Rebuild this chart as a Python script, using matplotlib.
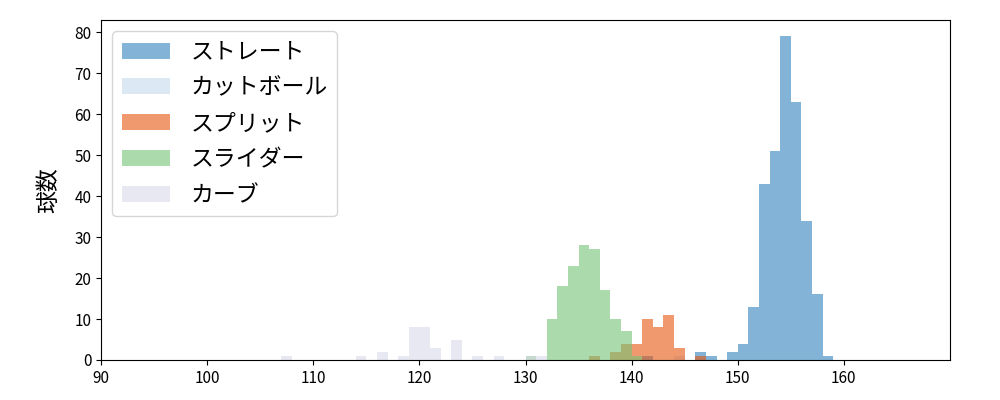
import numpy as np
import matplotlib
matplotlib.use('Agg')
import matplotlib.pyplot as plt

plt.rcParams['font.family'] = ['Noto Sans CJK JP', 'DejaVu Sans']

# pitch types, in legend order
pitch_names = ['ストレート', 'カットボール', 'スプリット', 'スライダー', 'カーブ']

# per-bin counts, keyed by left edge (km/h), bin width 1
straight_bins = [141, 146, 147, 149, 150, 151, 152, 153, 154, 155, 156, 157, 158]
straight_counts = [1, 2, 1, 2, 4, 13, 43, 51, 79, 63, 34, 16, 1]

cutball_bins = [144]
cutball_counts = [1]

split_bins = [136, 138, 139, 140, 141, 142, 143, 144, 146]
split_counts = [1, 2, 4, 4, 10, 8, 11, 3, 1]

slider_bins = [130, 132, 133, 134, 135, 136, 137, 138, 139, 140]
slider_counts = [1, 10, 18, 23, 28, 27, 17, 10, 7, 1]

curve_bins = [107, 114, 116, 118, 119, 120, 121, 123, 125, 127, 130, 131]
curve_counts = [1, 1, 2, 1, 8, 8, 3, 5, 1, 1, 1, 1]

cmap = plt.get_cmap('tab20c')
colors = [cmap(0), cmap(3), cmap(4), cmap(9), cmap(15)]

series = [(straight_bins, straight_counts),
          (cutball_bins, cutball_counts),
          (split_bins, split_counts),
          (slider_bins, slider_counts),
          (curve_bins, curve_counts)]

fig, ax = plt.subplots(figsize=(10, 4), dpi=100)
fig.subplots_adjust(left=0.101, right=0.95, top=0.95, bottom=0.1)

edges = np.arange(90, 171, 1)
for (b, c), name, col in zip(series, pitch_names, colors):
    ax.hist(b, bins=edges, weights=c, color=col, alpha=0.6, label=name)

ax.set_xlim(90, 170)
ax.set_ylim(0, 83)
ax.set_xticks(np.arange(90, 170, 10))
ax.set_yticks(np.arange(0, 81, 10))
ax.set_ylabel('球数', fontsize=16.5, labelpad=10)
ax.tick_params(labelsize=11)
ax.legend(loc='upper left', fontsize=16.5, handlelength=2.1,
          labelspacing=0.56, handletextpad=0.9)

fig.savefig('out.png')
